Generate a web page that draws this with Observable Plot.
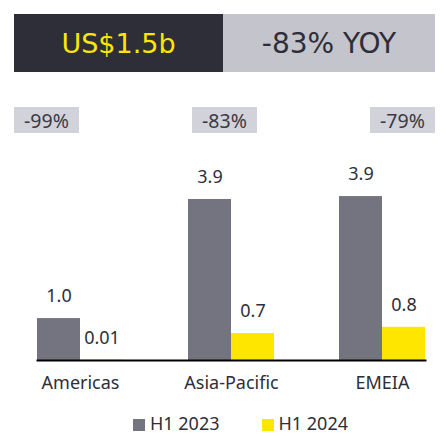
<!DOCTYPE html>
<html>
<head>
<meta charset="utf-8">
<script src="https://cdn.jsdelivr.net/npm/d3@7"></script>
<script src="https://cdn.jsdelivr.net/npm/@observablehq/plot@0.6"></script>
<style>
  body { margin: 0; background: #fff; }
  #wrap { position: relative; width: 446px; height: 436px; overflow: hidden; font-family: "Noto Sans", sans-serif; }
  #chart { position: absolute; left: 0; top: 0; }
  .hdr { position: absolute; top: 14px; height: 58px; display: flex; align-items: center; justify-content: center; font-family: "DejaVu Sans", sans-serif; font-size: 27px; }
  #hdrL { left: 14px; width: 209px; background: #2e2e38; color: #ffe600; }
  #hdrR { left: 223px; width: 212px; background: #c4c4cd; color: #2e2e38; font-size: 28px; }
  #badges { position: absolute; left: 14px; width: 421px; top: 107px; height: 26px; display: flex; justify-content: space-between; }
  .badge { width: 65px; height: 26px; background: #d2d2da; color: #3a3a44; font-size: 19.5px; display: flex; align-items: center; justify-content: center; }
  #legend { position: absolute; left: 133px; top: 411px; height: 25px; display: flex; font-size: 18px; line-height: 25px; color: #2e2e38; }
  .li { display: flex; align-items: center; margin-right: 42px; }
  .sw { width: 12px; height: 12px; margin-right: 5px; margin-top: 3px; }
</style>
</head>
<body>
<div id="wrap">
  <div id="chart"></div>
  <div class="hdr" id="hdrL"></div>
  <div class="hdr" id="hdrR"></div>
  <div id="badges"></div>
  <div id="legend"></div>
</div>
<script>
const regions = ["Americas", "Asia-Pacific", "EMEIA"];
const series = ["H1 2023", "H1 2024"];
const h1_2023 = [1.01, 3.88, 3.95];
const h1_2024 = [0.01, 0.65, 0.80];
const labels2023 = ["1.0", "3.9", "3.9"];
const labels2024 = ["0.01", "0.7", "0.8"];
const yoyChange = ["-99%", "-83%", "-79%"];
const headline = "US$1.5b";
const headlineYoy = "-83% YOY";
const colors = ["#747480", "#ffe600"];

const data = regions.flatMap((r, i) => [
  {region: r, series: series[0], value: h1_2023[i], label: labels2023[i]},
  {region: r, series: series[1], value: h1_2024[i], label: labels2024[i]}
]);

const chart = Plot.plot({
  width: 446,
  height: 436,
  marginLeft: 5,
  marginRight: 0,
  marginTop: 111,
  marginBottom: 76,
  style: {fontFamily: "Noto Sans", fontSize: "18px", background: "transparent"},
  fx: {domain: regions, paddingInner: 0.4305, paddingOuter: 0.1755, align: 0.604, axis: null},
  x: {domain: series, padding: 0, axis: null},
  y: {domain: [0, 6], axis: null},
  color: {domain: series, range: colors},
  marks: [
    Plot.barY(data, {fx: "region", x: "series", y: "value", fill: "series"}),
    Plot.text(data, {fx: "region", x: "series", y: "value", text: "label", dy: -22, fontSize: 18, fill: "#2e2e38"}),
    Plot.text(regions, {fx: d => d, text: d => d, frameAnchor: "bottom", dy: 28, fontSize: 18, fill: "#2e2e38"}),
    Plot.frame({anchor: "bottom", facet: "super", stroke: "#000", strokeWidth: 2})
  ]
});
document.getElementById("chart").appendChild(chart);

d3.select("#hdrL").text(headline);
d3.select("#hdrR").text(headlineYoy);
d3.select("#badges").selectAll("div").data(yoyChange).join("div").attr("class", "badge").text(d => d);
const li = d3.select("#legend").selectAll("div").data(series).join("div").attr("class", "li");
li.append("div").attr("class", "sw").style("background", (d, i) => colors[i]);
li.append("span").text(d => d);
</script>
</body>
</html>
